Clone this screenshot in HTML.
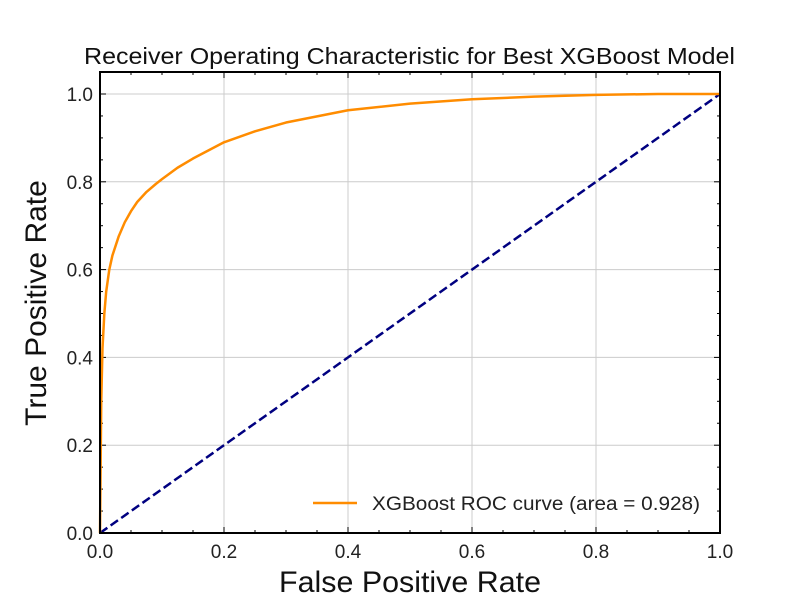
<!DOCTYPE html>
<html><head><meta charset="utf-8"><style>body{margin:0;background:#fff}svg{display:block;font-family:"Liberation Sans",sans-serif}</style></head>
<body>
<svg id="c" width="800" height="600">
<rect width="800" height="600" fill="#fff"/>
</svg>
<script>
const fpr=[0,0.001,0.002,0.004,0.007,0.01,0.015,0.02,0.03,0.04,0.05,0.06,0.075,0.09,0.1,0.125,0.15,0.2,0.25,0.3,0.4,0.5,0.6,0.7,0.8,0.9,1];
const tpr=[0,0.15,0.3,0.42,0.5,0.55,0.6,0.632,0.675,0.708,0.733,0.754,0.777,0.795,0.806,0.832,0.853,0.89,0.915,0.935,0.963,0.978,0.988,0.994,0.998,1.0,1.0];
const diagX=[0,1];
const diagY=[0,1];
const xTicks=[0,0.2,0.4,0.6,0.8,1.0];
const yTicks=[0,0.2,0.4,0.6,0.8,1.0];
const L=100,R=720,B=533,T=72;
const sx=v=>L+v*(R-L);
const sy=v=>B-v*439;
const s=document.getElementById('c');const NS='http://www.w3.org/2000/svg';
function mk(t,a,p){const e=document.createElementNS(NS,t);for(const k in a)e.setAttribute(k,a[k]);(p||s).appendChild(e);return e;}
let e;
xTicks.forEach(v=>{e=mk('line',{x1:sx(v),x2:sx(v),y1:T,y2:B,stroke:'#cccccc','stroke-width':1});

});
yTicks.forEach(v=>{e=mk('line',{x1:L,x2:R,y1:sy(v),y2:sy(v),stroke:'#cccccc','stroke-width':1});

});
for(let i=0;i<=20;i++){const v=i*0.05,maj=i%4==0,l=maj?6:3;
mk('line',{x1:sx(v),x2:sx(v),y1:B,y2:B-l,stroke:'#000'});mk('line',{x1:sx(v),x2:sx(v),y1:T,y2:T+l,stroke:'#000'});
mk('line',{x1:L,x2:L+l,y1:sy(v),y2:sy(v),stroke:'#000'});mk('line',{x1:R,x2:R-l,y1:sy(v),y2:sy(v),stroke:'#000'});}
xTicks.forEach(v=>{e=mk('text',{x:sx(v),y:558,'text-anchor':'middle','font-size':19,fill:'#222'});e.textContent=v.toFixed(1);

});
yTicks.forEach(v=>{e=mk('text',{x:93,y:sy(v)+7,'text-anchor':'end','font-size':19,fill:'#222'});e.textContent=v.toFixed(1);

});
e=mk('polyline',{points:diagX.map((x,i)=>sx(x)+','+sy(diagY[i])).join(' '),fill:'none',stroke:'#000080','stroke-width':2.5,'stroke-dasharray':'9,4'});


e=mk('polyline',{points:fpr.map((x,i)=>sx(x)+','+sy(tpr[i])).join(' '),fill:'none',stroke:'#ff8c00','stroke-width':2.5,'stroke-linejoin':'round'});


e=mk('rect',{x:L,y:T,width:R-L,height:B-T,fill:'none',stroke:'#000','stroke-width':2});


e=mk('line',{x1:313,x2:357,y1:503,y2:503,stroke:'#ff8c00','stroke-width':2.5});


e=mk('text',{x:372,y:510,'font-size':19,fill:'#222',textLength:328,lengthAdjust:'spacingAndGlyphs'});e.textContent='XGBoost ROC curve (area = 0.928)';


e=mk('text',{x:84,y:64,'font-size':23,fill:'#111',textLength:651,lengthAdjust:'spacingAndGlyphs'});e.textContent='Receiver Operating Characteristic for Best XGBoost Model';


e=mk('text',{x:279,y:592,'font-size':30,fill:'#111',textLength:262,lengthAdjust:'spacingAndGlyphs'});e.textContent='False Positive Rate';


e=mk('text',{x:0,y:0,'text-anchor':'middle','font-size':30,fill:'#111',transform:'translate(46,303) rotate(-90)'});e.textContent='True Positive Rate';


</script>
</body></html>
